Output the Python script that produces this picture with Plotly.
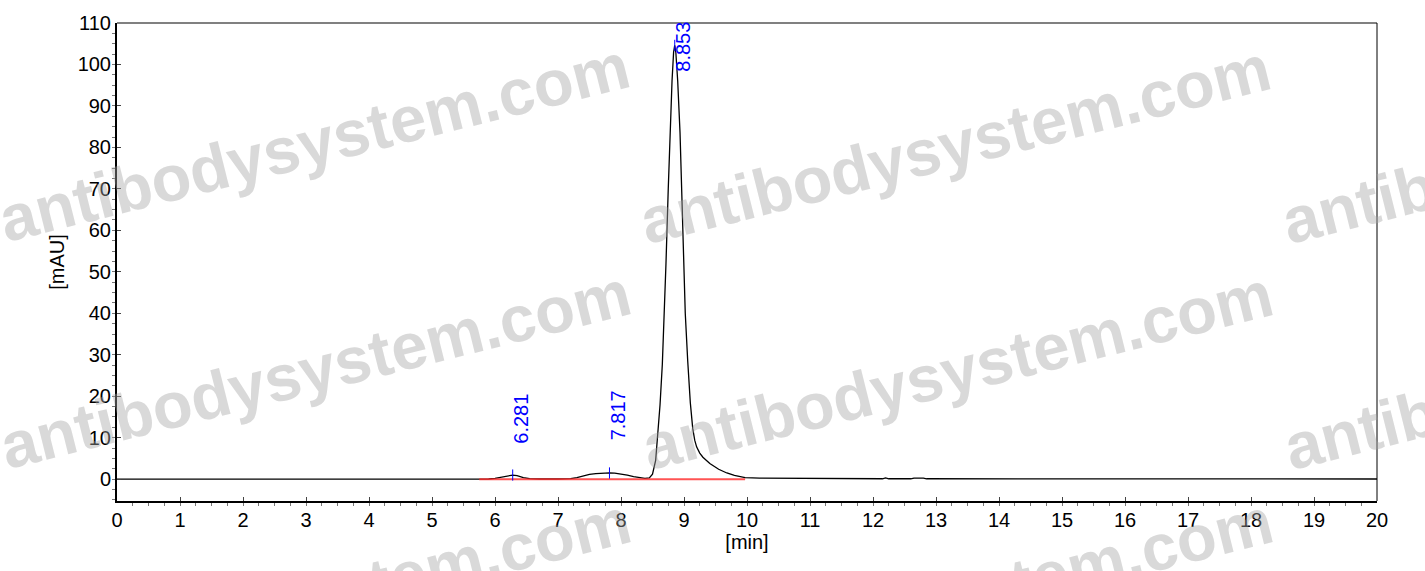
import plotly.graph_objects as go

# ---- data ----
time_min = [0, 5.7, 5.9, 6.0, 6.1, 6.2, 6.28, 6.35, 6.45, 6.55, 6.7, 7.0, 7.2, 7.3, 7.4,
            7.5, 7.6, 7.7, 7.82, 7.9, 8.0, 8.1, 8.2, 8.3, 8.38, 8.45, 8.5, 8.55, 8.593,
            8.62, 8.656, 8.69, 8.714, 8.75, 8.778, 8.81, 8.835, 8.853, 8.87, 8.9, 8.937,
            8.96, 8.99, 9.02, 9.059, 9.1, 9.138, 9.17, 9.2, 9.25, 9.3, 9.41, 9.55, 9.68,
            9.8, 9.97, 10.2, 11.5, 11.6, 12.15, 12.2, 12.25, 12.6, 12.65, 12.8, 12.85, 20]
signal_mau = [0, 0, 0.05, 0.2, 0.45, 0.8, 1.0, 0.85, 0.4, 0.15, 0.05, 0.05, 0.15, 0.4, 0.8,
              1.15, 1.35, 1.45, 1.5, 1.45, 1.3, 1.0, 0.6, 0.3, 0.2, 0.3, 1.2, 4.5, 11.7,
              18, 27.7, 40, 52, 70, 83.5, 96, 103, 104.6, 103, 96, 83.5,
              71, 53, 40, 28.5, 18.5, 12.3, 9.4, 7.8, 6.3, 5.3, 3.8, 2.4, 1.5,
              0.9, 0.4, 0.25, 0.2, 0.1, 0.1, 0.3, 0.1, 0.1, 0.25, 0.25, 0.1, 0.05]

peak_times = [6.281, 7.817, 8.853]
peak_heights = [1.0, 1.5, 104.6]
peak_labels = ["6.281", "7.817", "8.853"]
peak_label_y = [8, 9, 110]

baseline_t = [5.75, 8.35, 9.97]
baseline_v = [0, 0, 0]

x_ticks = list(range(0, 21))
y_ticks = list(range(0, 111, 10))

FONT = "Liberation Sans, Arial, sans-serif"

fig = go.Figure()
fig.add_trace(go.Scatter(x=time_min, y=signal_mau, mode="lines",
                         line=dict(color="black", width=1.3), hoverinfo="skip"))
fig.add_trace(go.Scatter(x=baseline_t, y=baseline_v, mode="lines",
                         line=dict(color="rgba(255,40,40,0.8)", width=2), hoverinfo="skip"))
fig.add_trace(go.Scatter(x=peak_times, y=peak_heights, mode="markers",
                         marker=dict(symbol="line-ns", size=8,
                                     line=dict(color="blue", width=1)), hoverinfo="skip"))

annotations = []
for t, lab, ly in zip(peak_times, peak_labels, peak_label_y):
    top = ly >= 110
    annotations.append(dict(x=t, y=ly, xref="x", yref="y", text=lab, showarrow=False,
                            textangle=-90, xanchor="center",
                            yanchor="top" if top else "bottom",
                            xshift=8, yshift=3 if top else 0,
                            font=dict(family=FONT, size=20, color="blue")))

# watermark (decoration), positioned in pixel space of the 1425x571 page
L, R, T, B = 117, 48, 19, 70
W, H = 1425, 571
pw, ph = W - L - R, H - T - B
wm_centers = [(314, 140), (955, 142), (1597, 142),
              (315, 368), (957, 369), (1599, 369),
              (315, 598), (957, 598), (1599, 598)]
for cx, cy in wm_centers:
    annotations.append(dict(x=(cx - L) / pw, y=(H - B - cy) / ph, xref="paper", yref="paper",
                            text="<b>antibodysystem.com</b>", showarrow=False, textangle=-14,
                            xanchor="center", yanchor="middle",
                            font=dict(family=FONT, size=65, color="rgba(165,165,165,0.42)")))

shapes = [
    dict(type="line", xref="paper", yref="paper", x0=0, x1=1, y0=1, y1=1,
         line=dict(color="#808080", width=2)),
    dict(type="line", xref="paper", yref="paper", x0=1, x1=1, y0=0, y1=1,
         line=dict(color="black", width=1)),
]

fig.update_layout(
    width=W, height=H,
    margin=dict(l=L, r=R, t=T, b=B),
    paper_bgcolor="white", plot_bgcolor="white",
    showlegend=False,
    font=dict(family=FONT, size=20, color="black"),
    annotations=annotations,
    shapes=shapes,
    xaxis=dict(range=[0, 20], tickvals=x_ticks, ticktext=[str(v) for v in x_ticks],
               showgrid=False, zeroline=False, showline=True, linecolor="black", linewidth=2,
               ticks="inside", ticklen=4, tickcolor="#444",
               minor=dict(dtick=0.25, tick0=0, ticks="outside", ticklen=3, tickcolor="#777"),
               tickfont=dict(family=FONT, size=20, color="black"),
               title=dict(text="[min]", font=dict(family=FONT, size=20), standoff=4)),
    yaxis=dict(range=[-5.26, 110], tickvals=y_ticks, ticktext=[str(v) for v in y_ticks],
               showgrid=False, zeroline=False, showline=True, linecolor="black", linewidth=2,
               ticks="inside", ticklen=4, tickcolor="#444",
               minor=dict(dtick=2.5, tick0=0, ticks="outside", ticklen=3, tickcolor="#777"),
               tickfont=dict(family=FONT, size=20, color="black"),
               title=dict(text="[mAU]", font=dict(family=FONT, size=20), standoff=8)),
)

fig.write_html("out.html", config={"displayModeBar": False},
               post_script="document.body.style.margin='0';document.body.style.overflow='hidden';")
